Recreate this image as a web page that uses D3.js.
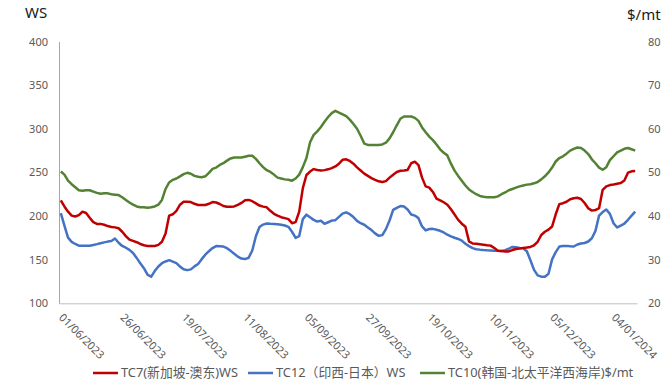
<!DOCTYPE html>
<html>
<head>
<meta charset="utf-8">
<script src="https://cdn.jsdelivr.net/npm/d3@7"></script>
<style>
  body { margin: 0; background: #fff; }
  svg text { font-family: 'Noto Sans', 'Noto Sans CJK SC', sans-serif; }
</style>
</head>
<body>
<div id="chart"></div>
<script>
// Category axis: 160 trading days from 01/06/2023, labelled every 17 points
const tickLabels = ['01/06/2023', '26/06/2023', '19/07/2023', '11/08/2023', '05/09/2023',
    '27/09/2023', '19/10/2023', '10/11/2023', '05/12/2023', '04/01/2024'];
const tickStep = 17;

// TC7 Singapore - East Australia (WS, left axis)
const tc7 = [
    218, 211, 205, 200.5, 199.5, 201, 205, 203.5, 198, 193,
    191, 191, 190, 188.5, 187.5, 187, 186, 182, 177, 173,
    171.5, 170, 168, 166.5, 165.7, 165.7, 165.7, 167, 170.5, 180,
    200.5, 202, 206, 213, 216.4, 216.4, 216, 214, 212.7, 212.7,
    212.7, 214, 216, 215.5, 213.8, 211.5, 210.7, 210.7, 211, 212.8,
    215, 218, 218.5, 217, 214.5, 212, 210.8, 210, 206, 202.6,
    200.5, 198.7, 197.6, 196.5, 191.8, 193, 205, 232, 247, 251,
    253.8, 252.7, 252.1, 252.6, 253.5, 254.9, 256.8, 260, 264.4, 265,
    263.1, 260, 255.8, 252.2, 248.6, 246, 243.5, 241.5, 239.8, 239,
    240, 244, 247.4, 250.5, 251.9, 252.3, 252.8, 260.5, 262.3, 258.3,
    244, 234, 232.6, 227.6, 220, 218, 215.8, 213, 207.8, 201.8,
    195.6, 191.2, 187.7, 171, 168.5, 168.2, 167.7, 167.2, 166.6, 166.1,
    163.3, 160.3, 159.8, 159.4, 159.5, 161, 162.2, 162.8, 163.5, 164,
    164.6, 166.5, 170.5, 178.3, 182, 184.4, 188, 202, 213.6, 214.7,
    216.4, 219.2, 220.3, 220.9, 219.5, 214.9, 209, 206.2, 206.9, 209,
    230, 234, 235.5, 236.2, 237, 237.8, 240.8, 249.7, 251.2, 251.6
];

// TC12 West India - Japan (WS, left axis)
const tc12 = [
    203.3, 188.9, 175.2, 170.4, 168, 166, 166, 166, 166, 166.8,
    167.8, 168.9, 169.8, 170.7, 171.3, 174.2, 169.4, 165.7, 163.7, 161.2,
    157.6, 152, 145.8, 140.2, 132.9, 130.4, 136.9, 142.2, 145.9, 147.9,
    149.4, 147.7, 146.1, 142, 139.1, 138, 138.9, 142.3, 145.1, 150.6,
    155.7, 159.7, 163.3, 165.6, 165.3, 165, 163.2, 160.1, 156.8, 153.5,
    151.3, 150.7, 152.2, 160.5, 176.9, 187.4, 190.2, 191.5, 191.2, 191,
    190.5, 190, 189.1, 187.6, 182, 175, 177, 196.5, 201.6, 198.5,
    195.6, 193.7, 194.6, 191.1, 192.9, 194.8, 195.3, 199, 202.8, 204.2,
    202.1, 198.8, 194.5, 191.8, 190, 186.9, 183.9, 180.1, 177.3, 178.1,
    185, 194.9, 207.1, 209.4, 211.4, 210.8, 207.6, 201.8, 200.5, 197.6,
    188.1, 183.5, 185.1, 185.3, 184.2, 183.1, 181.2, 178.6, 176.7, 175.1,
    173.7, 171.8, 168.2, 165.5, 163.2, 162, 161.5, 161.1, 160.8, 160.6,
    160.3, 160.1, 160, 160.8, 162.5, 164.6, 164.1, 163.5, 163.1, 159.6,
    149.3, 138.3, 132, 130.5, 130.5, 133.8, 150.3, 158.7, 165, 165.6,
    165.8, 165.3, 165.1, 167.4, 168.5, 169.1, 170.8, 174.5, 183, 200.5,
    204.5, 207.5, 202.5, 191.8, 186.9, 189.1, 191.2, 195.7, 200.5, 205
];

// TC10 Korea - North Pacific West Coast ($/mt, right axis)
const tc10 = [
    50.2, 49.5, 48.1, 47.3, 46.6, 45.9, 45.8, 45.9, 45.9, 45.6,
    45.3, 45.1, 45.2, 45.2, 45.0, 44.9, 44.8, 44.3, 43.7, 43.1,
    42.6, 42.2, 42.0, 42.0, 41.9, 42.0, 42.2, 42.6, 43.7, 46.2,
    47.7, 48.3, 48.6, 49.1, 49.6, 49.9, 49.7, 49.2, 49.0, 48.9,
    49.1, 49.9, 50.8, 51.1, 51.7, 52.1, 52.7, 53.2, 53.4, 53.4,
    53.4, 53.6, 53.8, 53.8, 53.1, 52.1, 51.2, 50.5, 50.1, 49.5,
    48.8, 48.6, 48.4, 48.3, 48.1, 48.6, 49.5, 51.2, 53.3, 56.9,
    58.6, 59.4, 60.4, 61.6, 62.7, 63.6, 64.1, 63.7, 63.3, 62.9,
    62.1, 61.1, 60.0, 58.4, 56.6, 56.3, 56.3, 56.3, 56.3, 56.4,
    56.8, 57.8, 59.2, 60.8, 62.3, 62.8, 62.8, 62.8, 62.5, 61.8,
    60.3, 59.2, 58.2, 57.4, 56.4, 55.3, 54.5, 53.9, 52.0, 50.4,
    49.2, 48.1, 47.0, 46.1, 45.5, 45.0, 44.6, 44.4, 44.3, 44.3,
    44.3, 44.5, 45.0, 45.4, 45.9, 46.2, 46.5, 46.8, 47.0, 47.2,
    47.3, 47.5, 47.8, 48.4, 49.1, 50.0, 51.1, 52.5, 53.3, 53.7,
    54.3, 55.0, 55.4, 55.7, 55.6, 55.0, 54.2, 53.0, 52.1, 51.1,
    50.6, 51.2, 52.8, 53.7, 54.6, 55.0, 55.4, 55.6, 55.3, 55.0
];

const leftTicks = [100, 150, 200, 250, 300, 350, 400];
const rightTicks = [20, 30, 40, 50, 60, 70, 80];

const seriesNames = ['TC7(新加坡-澳东)WS', 'TC12（印西-日本）WS', 'TC10(韩国-北太平洋西海岸)$/mt'];
const colors = ['#C00000', '#4472C4', '#548235'];

// Layout
const width = 670, height = 380;
const plot = { left: 59, right: 637, top: 41.5, bottom: 303.3 };

const svg = d3.select('#chart')
    .append('svg')
    .attr('width', width)
    .attr('height', height);

const x = d3.scaleLinear()
    .domain([-0.5, tc7.length - 0.5])
    .range([plot.left, plot.right]);

const yLeft = d3.scaleLinear()
    .domain([100, 400])
    .range([plot.bottom, plot.top]);

const yRight = d3.scaleLinear()
    .domain([20, 80])
    .range([plot.bottom, plot.top]);

// Axes
const leftAxis = svg.append('g')
    .attr('transform', `translate(${plot.left},0)`)
    .call(d3.axisLeft(yLeft).tickValues(leftTicks).tickSize(0).tickPadding(11));
leftAxis.select('.domain').attr('stroke', '#a6a6a6').attr('stroke-width', 1);

const rightAxis = svg.append('g')
    .attr('transform', `translate(${plot.right},0)`)
    .call(d3.axisRight(yRight).tickValues(rightTicks).tickSize(0).tickPadding(11));
rightAxis.select('.domain').remove();

const bottomAxis = svg.append('g')
    .attr('transform', `translate(0,${plot.bottom})`)
    .call(d3.axisBottom(x)
        .tickValues(tickLabels.map((d, i) => i * tickStep))
        .tickFormat((d, i) => tickLabels[i])
        .tickSize(0));
bottomAxis.select('.domain').attr('stroke', '#bfbfbf').attr('stroke-width', 1);
bottomAxis.selectAll('text')
    .attr('text-anchor', 'start')
    .attr('dy', 0)
    .attr('y', 0)
    .attr('transform', 'translate(-3,15) rotate(45)');

svg.selectAll('.tick text')
    .attr('fill', '#595959')
    .style('font-size', '11px');

// Axis titles
svg.append('text')
    .attr('x', 25).attr('y', 18)
    .attr('fill', '#1a1a1a')
    .style('font-size', '15px')
    .text('WS');

svg.append('text')
    .attr('x', 627).attr('y', 20)
    .attr('fill', '#1a1a1a')
    .style('font-size', '15px')
    .text('$/mt');

// Lines
const lineLeft = d3.line()
    .x((d, i) => x(i))
    .y(d => yLeft(d));

const lineRight = d3.line()
    .x((d, i) => x(i))
    .y(d => yRight(d));

svg.append('path')
    .datum(tc10)
    .attr('fill', 'none')
    .attr('stroke', colors[2])
    .attr('stroke-width', 2.5)
    .attr('stroke-linejoin', 'round')
    .attr('d', lineRight);

svg.append('path')
    .datum(tc12)
    .attr('fill', 'none')
    .attr('stroke', colors[1])
    .attr('stroke-width', 2.5)
    .attr('stroke-linejoin', 'round')
    .attr('d', lineLeft);

svg.append('path')
    .datum(tc7)
    .attr('fill', 'none')
    .attr('stroke', colors[0])
    .attr('stroke-width', 2.5)
    .attr('stroke-linejoin', 'round')
    .attr('d', lineLeft);

// Legend
const legendX = [93, 248, 420];
const legend = svg.append('g')
    .attr('transform', 'translate(0,373)');

const item = legend.selectAll('g')
    .data(seriesNames)
    .enter()
    .append('g')
    .attr('transform', (d, i) => `translate(${legendX[i]},0)`);

item.append('line')
    .attr('x1', 0).attr('x2', 25)
    .attr('stroke', (d, i) => colors[i])
    .attr('stroke-width', 2.5);

item.append('text')
    .attr('x', 28)
    .attr('dy', '0.35em')
    .attr('fill', '#595959')
    .style('font-size', '12.8px')
    .text(d => d);
</script>
</body>
</html>
